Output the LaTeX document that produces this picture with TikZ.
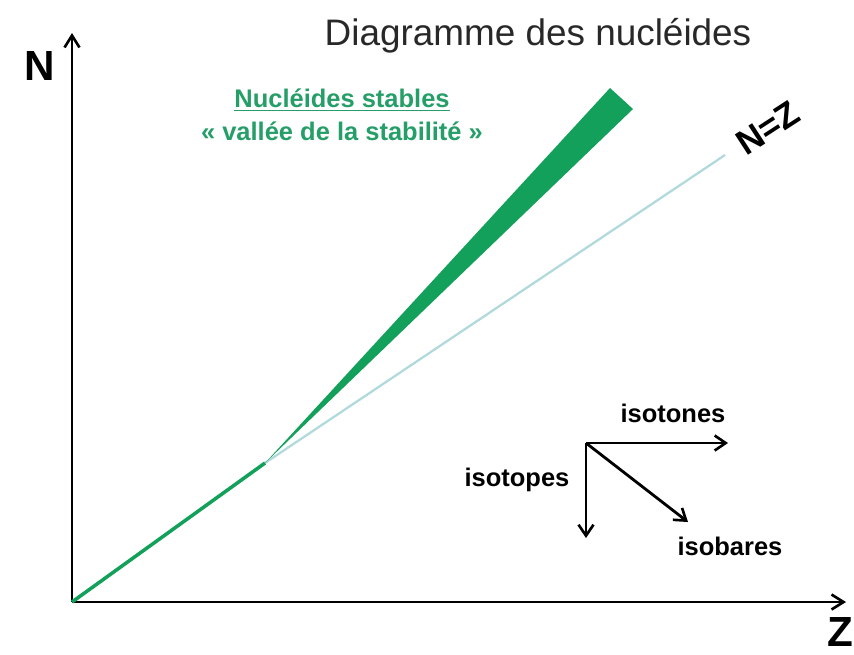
\documentclass[tikz,border=0pt]{standalone}
\usepackage{fontspec}
\setmainfont{Liberation Sans}
\usetikzlibrary{arrows.meta}
\definecolor{vallee}{RGB}{18,160,90}
\definecolor{textevert}{RGB}{38,158,104}
\definecolor{diagonale}{RGB}{178,218,220}
\definecolor{titre}{RGB}{40,40,40}
\begin{document}
\begin{tikzpicture}[
      x=0.02cm, y=-0.02cm,
      axe/.style={draw, line width=1.6pt, -{Straight Barb[length=2.4mm, width=3mm, line width=1.5pt]}},
      sens/.style={draw, line width=1.6pt, -{Straight Barb[length=2.2mm, width=3mm, line width=1.5pt]}},
      lbl/.style={inner sep=0pt, font=\bfseries\fontsize{14.5}{17}\selectfont},
      grand/.style={inner sep=0pt, font=\bfseries\fontsize{24}{28}\selectfont}
    ]
    \useasboundingbox (0,0) rectangle (854,654);

    % axes
    \coordinate (O) at (72,602);
    \coordinate (Nhaut) at (72,33);
    \coordinate (Zfin) at (846,602);
    \draw[axe] (O) -- (Nhaut);
    \draw[axe] (O) -- (Zfin);
    \node[grand] (N) at (40,66) {N};
    \node[grand] (Z) at (840,632) {Z};

    % titre
    \node[inner sep=0pt, text=titre, font=\fontsize{21}{24}\selectfont] (titre) at (538,36) {Diagramme des nucléides};

    % droite N=Z et vallee de stabilite
    \coordinate (K) at (265,463);
    \coordinate (NZfin) at (725,155);
    \coordinate (Vg) at (610,88);
    \coordinate (Vd) at (633,109);
    \draw[diagonale, line width=1.3pt] (K) -- (NZfin);
    \draw[vallee, line width=2pt, line join=round] (O) -- (K);
    \fill[vallee] (K) -- (Vg) -- (Vd) -- cycle;
    \node[lbl, rotate=33, font=\bfseries\fontsize{20}{24}\selectfont] (NZ) at (768,128) {N=Z};

    \node[lbl, text=textevert, align=center] (stables) at (342,100) {\underline{Nucléides stables}};
    \node[lbl, text=textevert] (vallee) at (342,131) {« vallée de la stabilité »};

    % sens de variation
    \coordinate (S) at (586,443);
    \coordinate (Sd) at (728,443);
    \coordinate (Sb) at (586,538);
    \coordinate (Sdiag) at (688,522);
    \draw[sens] (S) -- (Sd);
    \draw[sens] (S) -- (Sb);
    \draw[sens] (S) -- (Sdiag);
    \node[lbl] (isotones) at (673,413) {isotones};
    \node[lbl] (isotopes) at (517,480) {isotopes};
    \node[lbl] (isobares) at (730,546) {isobares};

\end{tikzpicture}
\end{document}
